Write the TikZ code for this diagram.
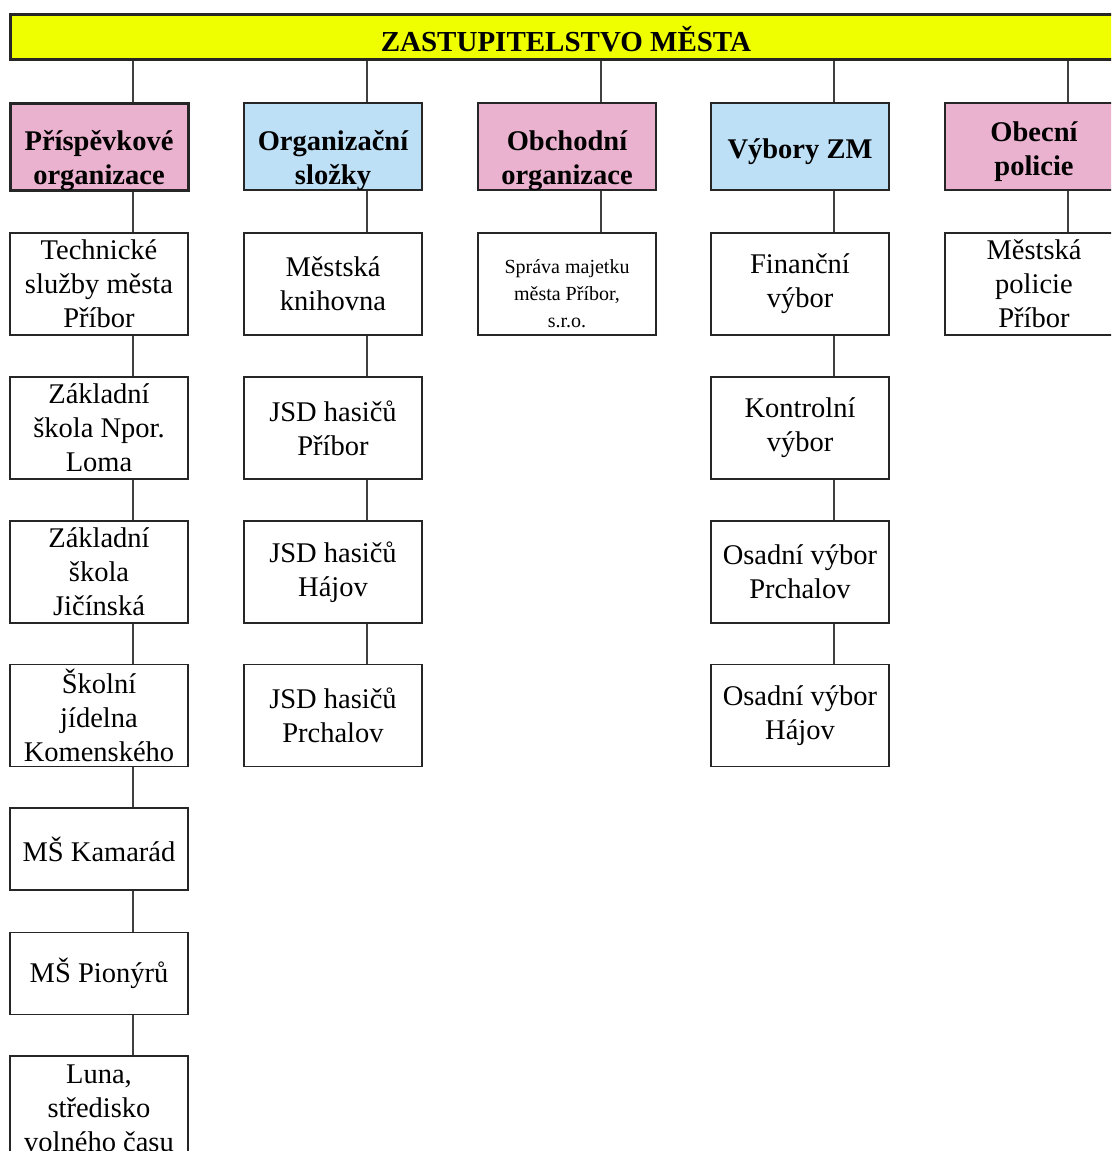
\documentclass[tikz,border=0pt]{standalone}
\usepackage{fontspec}
\setmainfont{Liberation Serif}
\definecolor{ttl}{HTML}{F0FF00}
\definecolor{pnk}{HTML}{EAB2CF}
\definecolor{blu}{HTML}{BDE0F6}
\definecolor{ln}{HTML}{404040}
\begin{document}
\begin{tikzpicture}[x=1pt,y=-1pt,
 box/.style={draw=black!85,line width=1.5pt,minimum width=178pt,inner sep=0pt},
 child/.style={box,fill=white,minimum height=102pt,align=center,font=\fontsize{28.5}{34}\selectfont},
 small/.style={child,minimum height=82pt},
 head/.style={box,minimum height=87pt},
 lbl/.style={align=center,inner sep=0pt,font=\fontsize{28.5}{34}\selectfont\bfseries},
 conn/.style={draw=ln,line width=2pt}]
\useasboundingbox[fill=white] (0,0) rectangle (1111,1151);
\begin{scope}
\clip (0,0) rectangle (1111,1151);
% title
\node[box,fill=ttl,line width=3pt,minimum width=1112pt,minimum height=45pt,label={[lbl,yshift=-3pt,font=\fontsize{29}{34}\selectfont\bfseries]center:ZASTUPITELSTVO MĚSTA}] (top) at (566,36.5) {};
% headers
\node[head,fill=pnk,line width=3pt,label={[lbl,yshift=-14pt]center:{Příspěvkové\\organizace}}] (h1) at (99,146.5) {};
\node[head,fill=blu,label={[lbl,yshift=-14pt]center:{Organizační\\složky}}] (h2) at (333,146.5) {};
\node[head,fill=pnk,label={[lbl,yshift=-14pt]center:{Obchodní\\organizace}}] (h3) at (567,146.5) {};
\node[head,fill=blu,label={[lbl,yshift=-5pt]center:{Výbory ZM}}] (h4) at (800,146.5) {};
\node[head,fill=pnk,label={[lbl,yshift=-5pt]center:{Obecní\\policie}}] (h5) at (1034,146.5) {};
% column 1
\node[child] (a1) at (99,284) {Technické\\služby města\\Příbor};
\node[child] (a2) at (99,428) {Základní\\škola Npor.\\Loma};
\node[child] (a3) at (99,572) {Základní\\škola\\Jičínská};
\node[child] (a4) at (99,715.5) {Školní\\jídelna\\Komenského};
\node[small] (a5) at (99,849) {MŠ Kamarád};
\node[small] (a6) at (99,973.5) {MŠ Pionýrů};
\node[child,minimum height=104pt] (a7) at (99,1108) {Luna,\\středisko\\volného času};
% column 2
\node[child] (b1) at (333,284) {Městská\\knihovna};
\node[child] (b2) at (333,428) {JSD hasičů\\Příbor};
\node[child] (b3) at (333,572) {JSD hasičů\\Hájov};
\node[child] (b4) at (333,715.5) {JSD hasičů\\Prchalov};
% column 3
\node[child,label={[lbl,yshift=-10pt,font=\fontsize{20}{27}\selectfont]center:{Správa majetku\\města Příbor,\\s.r.o.}}] (c1) at (567,284) {};
% column 4
\node[child] (d1) at (800,284) {Finanční\\výbor};
\node[child] (d2) at (800,428) {Kontrolní\\výbor};
\node[child] (d3) at (800,572) {Osadní výbor\\Prchalov};
\node[child] (d4) at (800,715.5) {Osadní výbor\\Hájov};
% column 5
\node[child] (e1) at (1034,284) {Městská\\policie\\Příbor};
% connectors from title
\foreach \h in {h1,h2,h3,h4,h5}
  \draw[conn] ([xshift=34pt]\h.north) -- ([xshift=34pt]\h.north |- top.south);
% connectors in columns
\foreach \u/\v in {h1/a1,a1/a2,a2/a3,a3/a4,a4/a5,a5/a6,a6/a7,
                   h2/b1,b1/b2,b2/b3,b3/b4,
                   h3/c1,
                   h4/d1,d1/d2,d2/d3,d3/d4,
                   h5/e1}
  \draw[conn] ([xshift=34pt]\u.south) -- ([xshift=34pt]\v.north);
\end{scope}
\end{tikzpicture}
\end{document}
